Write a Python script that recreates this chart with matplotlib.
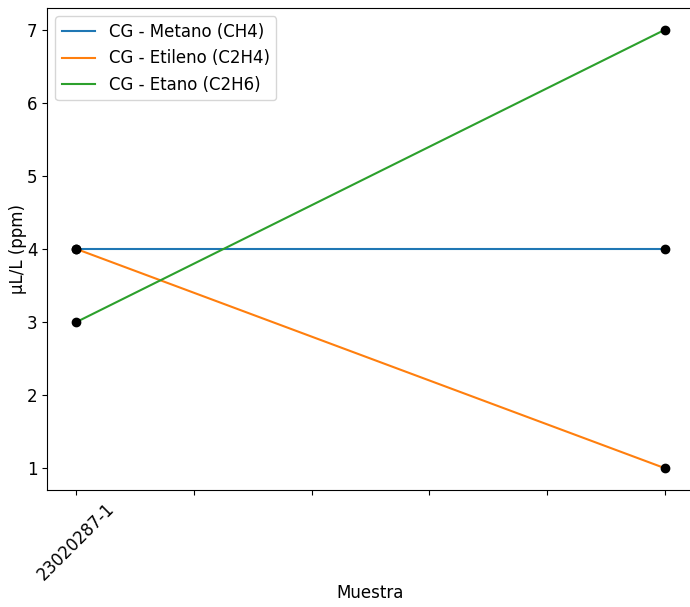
import matplotlib
matplotlib.use('Agg')
import matplotlib.pyplot as plt

muestras = ['23020287-1']
x = [0, 1]
metano = [4, 4]
etileno = [4, 1]
etano = [3, 7]

plt.rcParams['font.size'] = 12

fig = plt.figure(figsize=(6.9, 6.07), dpi=100)
ax = fig.add_axes([47/690, 1-490/607, 647/690, 482/607])

ax.plot(x, metano, label='CG - Metano (CH4)')
ax.plot(x, etileno, label='CG - Etileno (C2H4)')
ax.plot(x, etano, label='CG - Etano (C2H6)')
for serie in [metano, etileno, etano]:
    ax.plot(x, serie, 'ko')

ax.set_xticks([0, 0.2, 0.4, 0.6, 0.8, 1.0])
ax.set_xticklabels(muestras + [''] * 5, rotation=45)
ax.set_xlabel('Muestra', labelpad=0)
ax.set_ylabel('µL/L (ppm)', labelpad=0)
ax.legend(loc='upper left')

fig.savefig('out.png', dpi=100)
